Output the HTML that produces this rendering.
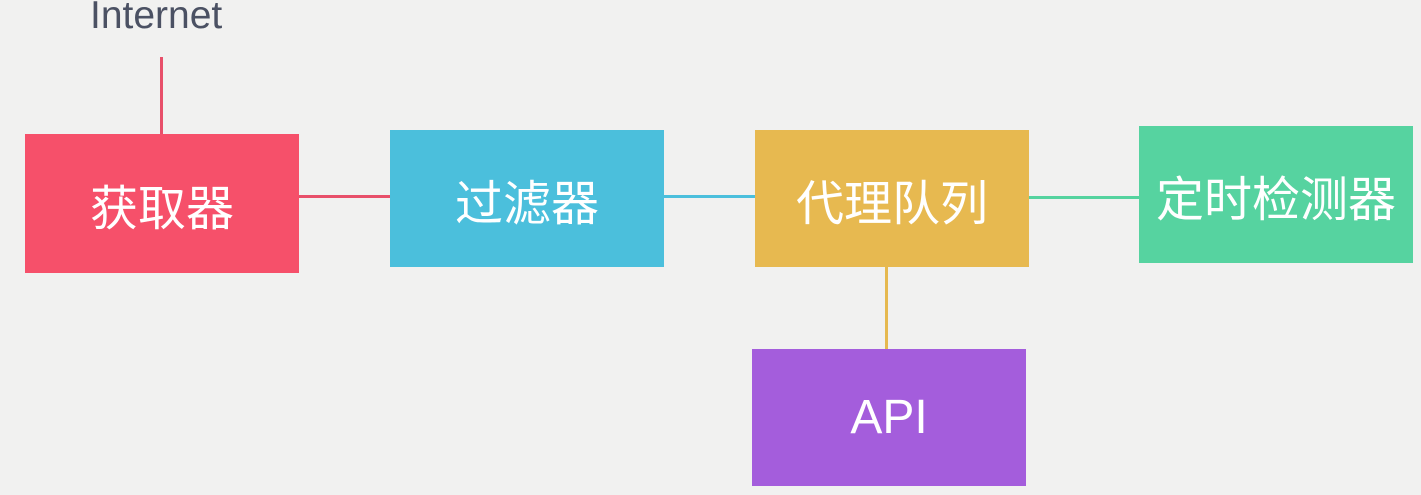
<!DOCTYPE html>
<html><head><meta charset="utf-8"><style>
body{margin:0;width:1421px;height:495px;background:#f1f1f0;position:relative;overflow:hidden;font-family:"Liberation Sans","Noto Sans CJK SC",sans-serif}
.b{position:absolute;width:274px;height:138px;color:#fff;font-size:48px;display:flex;align-items:center;justify-content:center}
.l{position:absolute}
</style></head><body>
<div style="position:absolute;left:90px;top:-6px;font-size:39px;color:#4b5163">Internet</div>
<div class="l" style="left:160px;top:57px;width:3px;height:78px;background:#e8506a"></div>
<div class="l" style="left:299px;top:195px;width:96px;height:3px;background:#e8506a"></div>
<div class="l" style="left:664px;top:195px;width:91px;height:3px;background:#4bbfdc"></div>
<div class="l" style="left:1029px;top:196px;width:110px;height:3px;background:#55d39f"></div>
<div class="l" style="left:885px;top:267px;width:3px;height:82px;background:#e6b94f"></div>
<div class="b" style="left:25px;top:134px;height:139px;background:#f6506a">获取器</div>
<div class="b" style="left:390px;top:130px;height:137px;background:#4bbfdc">过滤器</div>
<div class="b" style="left:755px;top:130px;height:137px;background:#e7b950">代理队列</div>
<div class="b" style="left:1139px;top:126px;height:137px;background:#56d3a0">定时检测器</div>
<div class="b" style="left:752px;top:349px;height:137px;background:#a45ddc">API</div>
</body></html>
